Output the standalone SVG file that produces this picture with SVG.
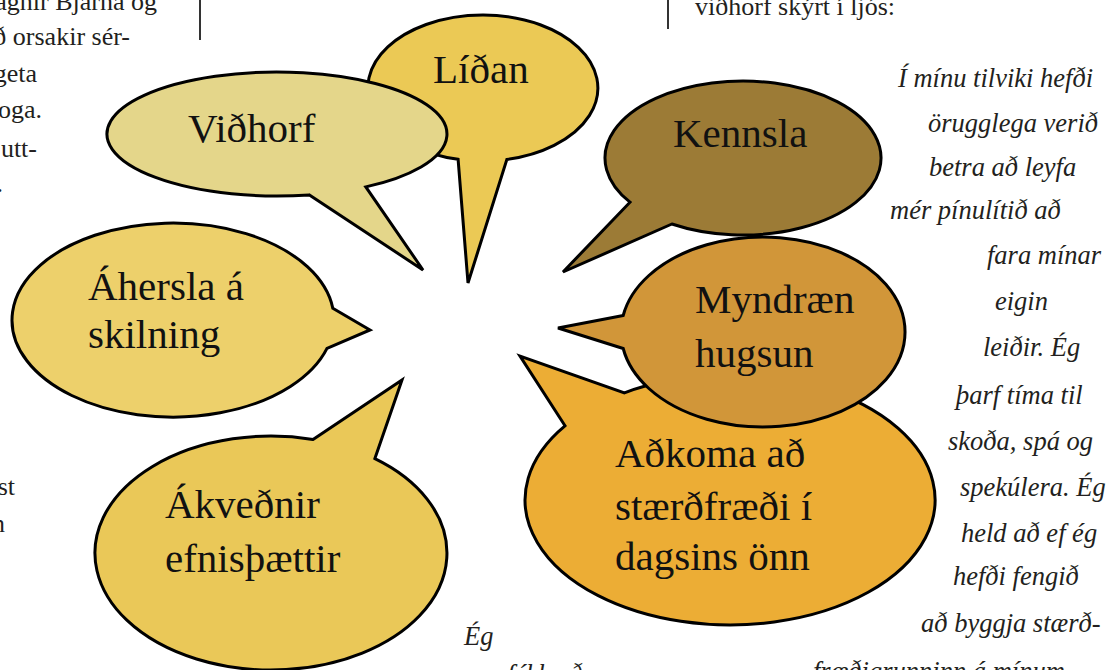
<svg xmlns="http://www.w3.org/2000/svg" width="1120" height="670" viewBox="0 0 1120 670">
<style>
.bub{stroke:#000;stroke-width:3;stroke-linejoin:miter}
.lab{font-family:"Liberation Serif","Times New Roman",serif;font-size:41px;fill:#111}
.body{font-family:"Liberation Serif","Times New Roman",serif;font-size:26px;fill:#231f20}
.it{font-family:"Liberation Serif","Times New Roman",serif;font-size:26.5px;font-style:italic;fill:#231f20}
.rule{stroke:#333;stroke-width:2}
</style>
<rect width="1120" height="670" fill="#fff"/>
<g id="page-text">
<line class="rule" x1="200" y1="0" x2="200" y2="40"/>
<line class="rule" x1="668" y1="0" x2="668" y2="29"/>
<text class="body" x="157" y="10" text-anchor="end">agnir Bjarna og</text>
<text class="body" x="130" y="45" text-anchor="end">ð orsakir sér-</text>
<text class="body" x="37" y="82" text-anchor="end">geta</text>
<text class="body" x="42" y="118" text-anchor="end">oga.</text>
<text class="body" x="37" y="157" text-anchor="end">utt-</text>
<text class="body" x="3" y="192" text-anchor="end">.</text>
<text class="body" x="15" y="495" text-anchor="end">st</text>
<text class="body" x="5" y="532" text-anchor="end">n</text>
<text class="body" x="695" y="15">viðhorf skýrt í ljós:</text>
<text class="it" x="898" y="87">Í mínu tilviki hefði</text>
<text class="it" x="928" y="132">örugglega verið</text>
<text class="it" x="929" y="176">betra að leyfa</text>
<text class="it" x="890" y="219">mér pínulítið að</text>
<text class="it" x="987" y="264">fara mínar</text>
<text class="it" x="995" y="310">eigin</text>
<text class="it" x="983" y="356">leiðir. Ég</text>
<text class="it" x="956" y="404">þarf tíma til</text>
<text class="it" x="948" y="450">skoða, spá og</text>
<text class="it" x="960" y="496">spekúlera. Ég</text>
<text class="it" x="961" y="542">held að ef ég</text>
<text class="it" x="953" y="585">hefði fengið</text>
<text class="it" x="921" y="632">að byggja stærð-</text>
<text class="it" x="813" y="680">fræðigrunninn á mínum</text>
<text class="it" x="464" y="645">Ég</text>
<text class="it" x="507" y="683">fékk að</text>
</g>
<g id="node-lidan">
<path class="bub" fill="#EBC955" d="M458.1,159.3 L468,283 L506.9,159.4 A115,73 0 1 0 458.1,159.3 Z"/>
<text class="lab" x="433" y="83">Líðan</text>
</g>
<g id="node-vidhorf">
<path class="bub" fill="#E4D68A" d="M309.4,194.9 L423,270 L365.8,186.9 A170,62 0 1 0 309.4,194.9 Z"/>
<text class="lab" x="188" y="142">Viðhorf</text>
</g>
<g id="node-ahersla">
<path class="bub" fill="#EDD06B" d="M332.8,308.2 L370,330 L327,348.4 A161,97 0 1 1 332.8,308.2 Z"/>
<text class="lab" x="88" y="300">Áhersla á</text>
<text class="lab" x="88" y="348">skilning</text>
</g>
<g id="node-akvednir">
<path class="bub" fill="#EAC858" d="M313,439.4 L402,380 L374.9,458.6 A176,117 0 1 1 313,439.4 Z"/>
<text class="lab" x="165" y="518">Ákveðnir</text>
<text class="lab" x="165" y="572">efnisþættir</text>
</g>
<g id="node-adkoma">
<path class="bub" fill="#ECAD35" d="M565,425.8 L520,356 L624.4,392.8 A205,125 0 1 1 565,425.8 Z"/>
<text class="lab" x="615" y="467">Aðkoma að</text>
<text class="lab" x="615" y="520">stærðfræði í</text>
<text class="lab" x="615" y="570">dagsins önn</text>
</g>
<g id="node-myndraen">
<path class="bub" fill="#D19639" d="M623.2,315.5 L558,328 L623.2,348.5 A142,95 0 1 0 623.2,315.5 Z"/>
<text class="lab" x="695" y="313">Myndræn</text>
<text class="lab" x="695" y="367">hugsun</text>
</g>
<g id="node-kennsla">
<path class="bub" fill="#9C7B36" d="M671.9,224 L563,272 L630,202.2 A138,77 0 1 1 671.9,224 Z"/>
<text class="lab" x="673" y="147">Kennsla</text>
</g>
<g id="connectors"></g>
</svg>
